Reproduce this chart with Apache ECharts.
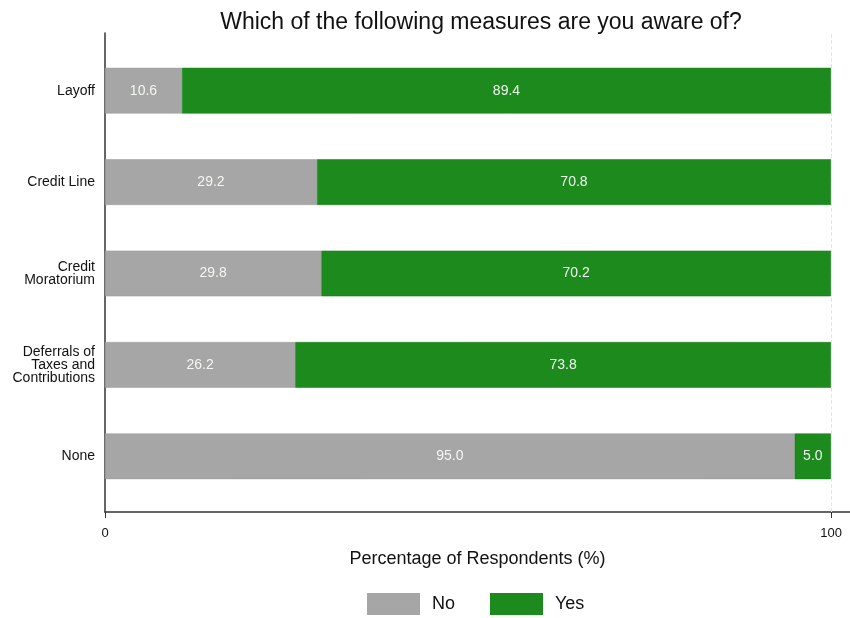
<!DOCTYPE html>
<html>
<head>
<meta charset="utf-8">
<script src="https://cdn.jsdelivr.net/npm/echarts@6/dist/echarts.min.js"></script>
<style>
  html, body { margin: 0; padding: 0; background: #fff; }
  #chart { width: 850px; height: 618px; }
</style>
</head>
<body>
<div id="chart"></div>
<script>
// Awareness of support measures, share of respondents (%)
const categories = ['Layoff', 'Credit Line', 'Credit\nMoratorium', 'Deferrals of\nTaxes and\nContributions', 'None'];
const noValues = [10.6, 29.2, 29.8, 26.2, 95.0];
const yesValues = [89.4, 70.8, 70.2, 73.8, 5.0];
const xTicks = [0, 100];

const FONT = '"Liberation Sans", Arial, Helvetica, sans-serif';
const GREY = '#a6a6a6';
const GREEN = '#1c8a1c';

const chart = echarts.init(document.getElementById('chart'), null, { renderer: 'canvas' });

const barLabel = {
  show: true,
  position: 'inside',
  color: '#f2f8f0',
  fontFamily: FONT,
  fontSize: 14,
  formatter: p => p.value.toFixed(1)
};

chart.setOption({
  animation: false,
  backgroundColor: '#ffffff',
  title: {
    text: 'Which of the following measures are you aware of?',
    left: 476,
    textAlign: 'center',
    top: 6,
    textStyle: { fontFamily: FONT, fontSize: 23, fontWeight: 'normal', color: '#111' }
  },
  legend: {
    data: ['No', 'Yes'],
    bottom: -2,
    left: 362,
    itemWidth: 53,
    itemHeight: 22,
    itemGap: 35,
    icon: 'rect',
    itemStyle: { borderWidth: 0 },
    textStyle: { fontFamily: FONT, fontSize: 18, color: '#111', padding: [0, 0, 0, 7] }
  },
  grid: [
    // bars
    { left: 105, right: 19, top: 45, height: 457 },
    // frame with axis lines and ticks
    { left: 105, right: 0, top: 33, height: 479 }
  ],
  xAxis: [
    { gridIndex: 0, type: 'value', min: 0, max: 100, show: false },
    {
      gridIndex: 1, type: 'value', min: 0, max: 102.6,
      axisLine: { show: true, lineStyle: { color: '#333', width: 1.5 } },
      axisTick: { show: true, customValues: xTicks, length: 6, lineStyle: { color: '#333' } },
      axisLabel: { customValues: xTicks, fontFamily: FONT, fontSize: 13, color: '#111', margin: 15 },
      splitLine: { show: false },
      name: 'Percentage of Respondents (%)',
      nameLocation: 'middle',
      nameGap: 38,
      nameTextStyle: { fontFamily: FONT, fontSize: 18, color: '#111' }
    }
  ],
  yAxis: [
    {
      gridIndex: 0, type: 'category', data: categories, inverse: true,
      axisLine: { show: false }, axisTick: { show: false },
      axisLabel: { fontFamily: FONT, fontSize: 14, color: '#111', margin: 10, align: 'right', lineHeight: 13 }
    },
    {
      gridIndex: 1, type: 'value', min: 0, max: 1,
      axisLine: { show: true, lineStyle: { color: '#333', width: 1.5 } },
      axisTick: { show: false }, axisLabel: { show: false }, splitLine: { show: false }
    }
  ],
  series: [
    {
      name: 'No', type: 'bar', stack: 'total', xAxisIndex: 0, yAxisIndex: 0,
      data: noValues, barWidth: '50%',
      itemStyle: { color: GREY, borderColor: '#9a9a9a', borderWidth: 0.5 },
      label: barLabel
    },
    {
      name: 'Yes', type: 'bar', stack: 'total', xAxisIndex: 0, yAxisIndex: 0,
      data: yesValues, barWidth: '50%',
      itemStyle: { color: GREEN, borderColor: '#177a17', borderWidth: 0.5 },
      label: barLabel
    },
    {
      // faint dashed reference at 100%
      type: 'line', xAxisIndex: 1, yAxisIndex: 1, data: [], silent: true,
      markLine: {
        symbol: 'none', silent: true, label: { show: false },
        lineStyle: { color: '#e4e4e4', type: 'dashed', width: 1 },
        data: [{ xAxis: 100 }]
      }
    }
  ]
});
</script>
</body>
</html>
